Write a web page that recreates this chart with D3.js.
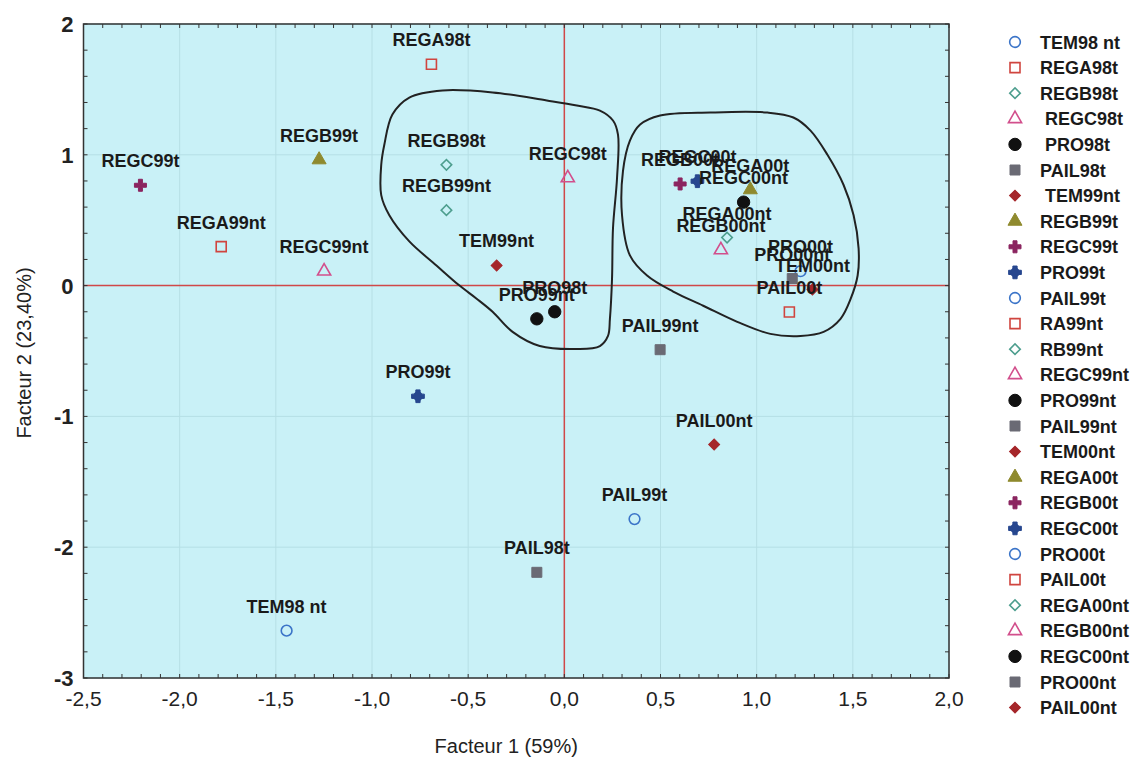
<!DOCTYPE html>
<html><head><meta charset="utf-8">
<script src="https://cdn.jsdelivr.net/npm/d3@7"></script>
<style>
body{margin:0;background:#fff}
text{font-family:"Liberation Sans",Arial,Helvetica,sans-serif}
</style>
</head><body>
<svg id="chart" width="1148" height="761"></svg>
<script>
// ---- data ----
const legendLabels = ["TEM98 nt","REGA98t","REGB98t"," REGC98t"," PRO98t","PAIL98t"," TEM99nt","REGB99t","REGC99t","PRO99t",
  "PAIL99t","RA99nt","RB99nt","REGC99nt","PRO99nt","PAIL99nt","TEM00nt","REGA00t","REGB00t","REGC00t",
  "PRO00t","PAIL00t","REGA00nt","REGB00nt","REGC00nt","PRO00nt","PAIL00nt"];
const pointLabels = ["TEM98 nt","REGA98t","REGB98t","REGC98t","PRO98t","PAIL98t","TEM99nt","REGB99t","REGC99t","PRO99t",
  "PAIL99t","REGA99nt","REGB99nt","REGC99nt","PRO99nt","PAIL99nt","TEM00nt","REGA00t","REGB00t","REGC00t",
  "PRO00t","PAIL00t","REGA00nt","REGB00nt","REGC00nt","PRO00nt","PAIL00nt"];
const factor1 = [-1.444,-0.691,-0.613,0.018,-0.050,-0.143,-0.352,-1.275,-2.204,-0.761,
  0.365,-1.784,-0.613,-1.249,-0.143,0.498,1.29,0.967,0.602,0.692,
  1.228,1.170,0.846,0.814,0.932,1.185,0.779];
const factor2 = [-2.638,1.692,0.923,0.823,-0.200,-2.192,0.154,0.962,0.767,-0.846,
  -1.785,0.298,0.577,0.110,-0.254,-0.49,-0.03,0.733,0.777,0.798,
  0.110,-0.202,0.367,0.272,0.638,0.054,-1.215];
const xTicks = [-2.5,-2.0,-1.5,-1.0,-0.5,0.0,0.5,1.0,1.5,2.0];
const yTicks = [2,1,0,-1,-2,-3];
const xTitle = "Facteur 1 (59%)";
const yTitle = "Facteur 2 (23,40%)";
// hand-drawn cluster outlines (in factor coordinates)
const cluster1X = [-0.894,-0.806,-0.633,-0.373,-0.091,0.065,0.185,0.253,0.279,0.274,0.253,0.248,0.237,0.227,0.185,0.065,-0.128,-0.269,-0.373,-0.456,-0.545,-0.665,-0.806,-0.910,-0.952,-0.952,-0.936];
const cluster1Y = [1.308,1.438,1.492,1.477,1.415,1.377,1.338,1.262,1.154,0.823,0.438,0.054,-0.254,-0.385,-0.462,-0.485,-0.462,-0.354,-0.200,-0.100,0.000,0.154,0.338,0.538,0.692,0.923,1.077];
const cluster2X = [0.394,0.498,0.759,1.056,1.191,1.280,1.368,1.452,1.504,1.530,1.525,1.489,1.436,1.348,1.228,1.071,0.899,0.722,0.566,0.430,0.341,0.300,0.305,0.341];
const cluster2Y = [1.231,1.300,1.323,1.323,1.285,1.185,1.000,0.769,0.538,0.285,0.077,-0.100,-0.254,-0.354,-0.385,-0.369,-0.277,-0.154,-0.046,0.077,0.231,0.538,0.877,1.108];

// ---- marker style cycle (Statistica-like) ----
const styles = [
  {sym:"circle",  fill:"none",    stroke:"#3b74c8", size:90},
  {sym:"square",  fill:"none",    stroke:"#d0453f", size:100},
  {sym:"diamond", fill:"none",    stroke:"#4d9e8e", size:55},
  {sym:"triangle",fill:"none",    stroke:"#d24f8c", size:75},
  {sym:"circle",  fill:"#111111", stroke:"#111111", size:120},
  {sym:"square",  fill:"#6a6a74", stroke:"#6a6a74", size:100},
  {sym:"diamond", fill:"#a5262a", stroke:"#a5262a", size:60},
  {sym:"triangle",fill:"#8f8a2e", stroke:"#8f8a2e", size:85},
  {sym:"cross",   fill:"#8b2560", stroke:"#8b2560", size:80},
  {sym:"star",    fill:"#27478f", stroke:"#27478f", size:90}
];

const W = 1148, H = 761;
const svg = d3.select("#chart");
svg.append("rect").attr("width",W).attr("height",H).attr("fill","#fff");

const x = d3.scaleLinear().domain([-2.5,2.0]).range([83.5,949]);
const y = d3.scaleLinear().domain([-3,2]).range([678,24]);
const fmt = v => d3.format(".1f")(v).replace(".",",").replace("\u2212","-");

// background
svg.append("rect").attr("x",x(-2.5)).attr("y",y(2)).attr("width",x(2)-x(-2.5)).attr("height",y(-3)-y(2))
  .attr("fill","#c9f1f7");

// grid
const g = svg.append("g");
g.selectAll(".gx").data(xTicks).join("line")
  .attr("x1",d=>x(d)).attr("x2",d=>x(d)).attr("y1",y(2)).attr("y2",y(-3))
  .attr("stroke","#b6dfe5").attr("stroke-width",1);
g.selectAll(".gy").data(yTicks).join("line")
  .attr("y1",d=>y(d)).attr("y2",d=>y(d)).attr("x1",x(-2.5)).attr("x2",x(2))
  .attr("stroke","#b6dfe5").attr("stroke-width",1);

// zero lines
svg.append("line").attr("x1",x(0)).attr("x2",x(0)).attr("y1",y(2)).attr("y2",y(-3)).attr("stroke","#d04848").attr("stroke-width",1.5);
svg.append("line").attr("x1",x(-2.5)).attr("x2",x(2)).attr("y1",y(0)).attr("y2",y(0)).attr("stroke","#d04848").attr("stroke-width",1.5);

// minor ticks (inside)
const xMinor = d3.range(-2.5, 2.0001, 0.1);
const yMinor = d3.range(-3, 2.0001, 0.2);
const tk = svg.append("g").attr("stroke","#333").attr("stroke-width",1);
xMinor.forEach(v=>{
  tk.append("line").attr("x1",x(v)).attr("x2",x(v)).attr("y1",y(-3)).attr("y2",y(-3)-4);
  tk.append("line").attr("x1",x(v)).attr("x2",x(v)).attr("y1",y(2)).attr("y2",y(2)+4);
});
yMinor.forEach(v=>{
  tk.append("line").attr("x1",x(-2.5)).attr("x2",x(-2.5)+4).attr("y1",y(v)).attr("y2",y(v));
  tk.append("line").attr("x1",x(2)).attr("x2",x(2)-4).attr("y1",y(v)).attr("y2",y(v));
});

// frame
svg.append("rect").attr("x",x(-2.5)).attr("y",y(2)).attr("width",x(2)-x(-2.5)).attr("height",y(-3)-y(2))
  .attr("fill","none").attr("stroke","#333").attr("stroke-width",1.5);

// axes labels
svg.append("g").selectAll("text").data(xTicks).join("text")
  .attr("x",d=>x(d)).attr("y",y(-3)+28).attr("text-anchor","middle")
  .attr("font-size",21).attr("fill","#222").text(fmt);
svg.append("g").selectAll("text").data(yTicks).join("text")
  .attr("x",x(-2.5)-10).attr("y",d=>y(d)+8).attr("text-anchor","end")
  .attr("font-size",22).attr("font-weight","bold").attr("fill","#222").text(d=>String(d));
svg.append("text").attr("x",(x(-2.5)+x(2))/2-10).attr("y",753).attr("text-anchor","middle")
  .attr("font-size",20).attr("fill","#222").text(xTitle);
svg.append("text").attr("transform",`translate(31,${(y(2)+y(-3))/2+2}) rotate(-90)`).attr("text-anchor","middle")
  .attr("font-size",20).attr("fill","#222").text(yTitle);

// clusters
const line = d3.line().x(d=>x(d[0])).y(d=>y(d[1])).curve(d3.curveCatmullRomClosed.alpha(0.5));
[[cluster1X,cluster1Y],[cluster2X,cluster2Y]].forEach(([cx,cy])=>{
  svg.append("path").attr("d",line(cx.map((v,i)=>[v,cy[i]])))
    .attr("fill","none").attr("stroke","#222").attr("stroke-width",2);
});

// marker drawing
function drawMarker(sel, st){
  if(st.sym==="star"){
    sel.append("path").attr("d",d3.symbol(d3.symbolCross, st.size)())
      .attr("fill",st.fill).attr("stroke",st.stroke).attr("stroke-width",1);
    sel.append("path").attr("d",d3.symbol(d3.symbolCross, st.size*0.55)()).attr("transform","rotate(45)")
      .attr("fill",st.fill);
    return;
  }
  let type = {circle:d3.symbolCircle, square:d3.symbolSquare, diamond:d3.symbolSquare,
              triangle:d3.symbolTriangle, cross:d3.symbolCross}[st.sym];
  const p = sel.append("path").attr("d",d3.symbol(type, st.size)())
    .attr("fill",st.fill).attr("stroke",st.stroke).attr("stroke-width",st.fill==="none"?1.6:1);
  if(st.sym==="diamond") p.attr("transform","rotate(45)");
}

const pts = pointLabels.map((n,i)=>({n, x:factor1[i], y:factor2[i], st:styles[i%10]}));
const mk = svg.append("g");
pts.forEach(p=>{
  const gg = mk.append("g").attr("transform",`translate(${x(p.x)},${y(p.y)})`);
  drawMarker(gg, p.st);
});
svg.append("g").selectAll("text").data(pts).join("text")
  .attr("x",d=>x(d.x)).attr("y",d=>y(d.y)-18).attr("text-anchor","middle")
  .attr("font-size",18).attr("font-weight","bold").attr("fill","#1a1a1a").text(d=>d.n);

// legend
const lg = svg.append("g");
legendLabels.forEach((n,i)=>{
  const ly = 42 + i*25.6;
  const gg = lg.append("g").attr("transform",`translate(1015,${ly})`);
  drawMarker(gg, styles[i%10]);
  lg.append("text").attr("x",1040).attr("y",ly+6.5).attr("font-size",18).attr("font-weight","bold")
    .attr("fill","#1a1a1a").style("white-space","pre").text(n);
});
</script>
</body></html>
